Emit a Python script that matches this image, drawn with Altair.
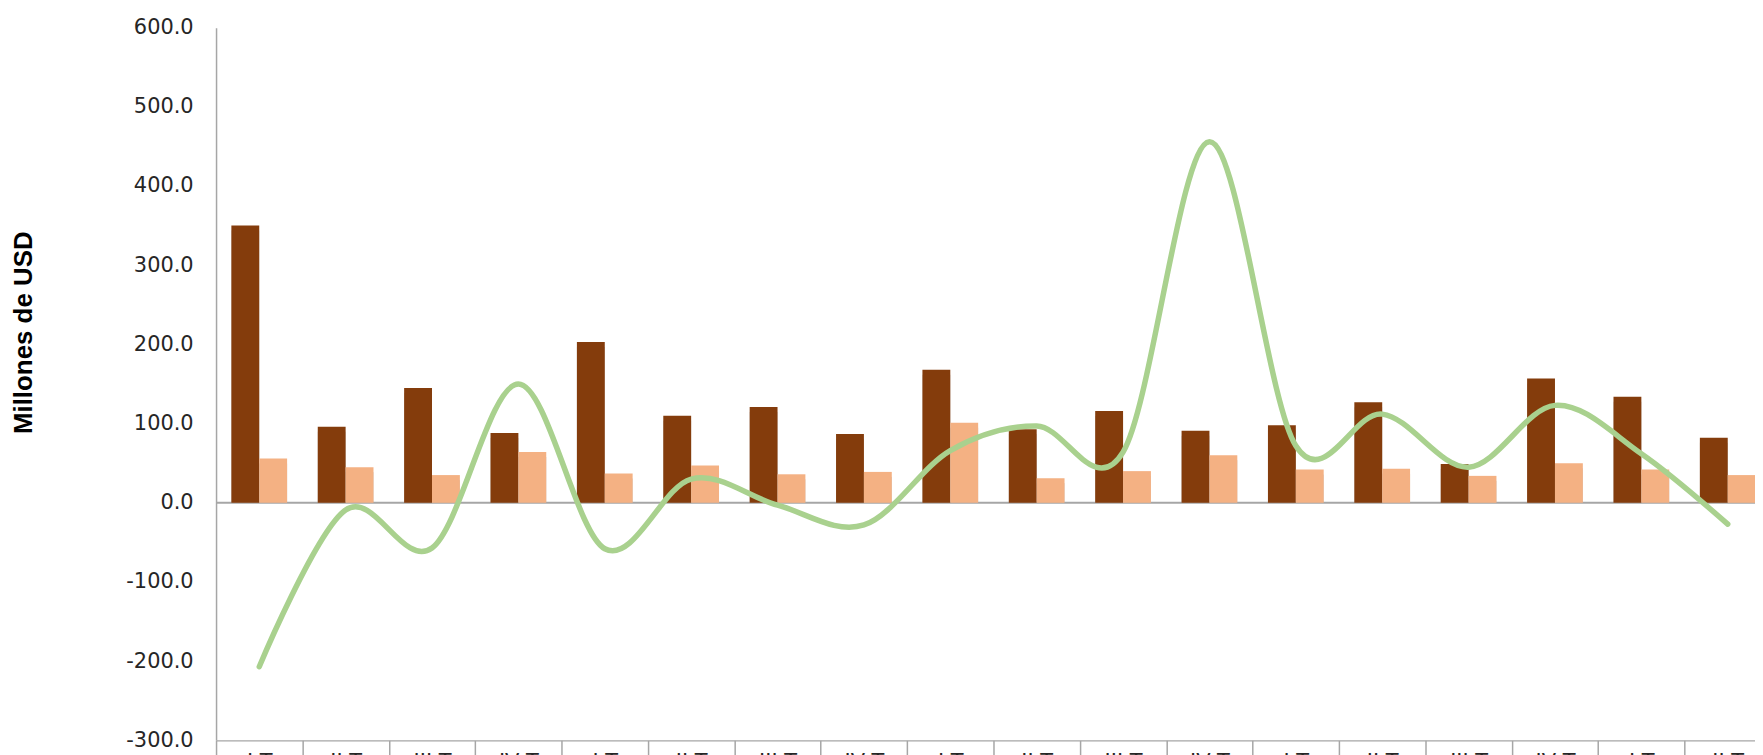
import altair as alt
import pandas as pd

# ---- data ----
claves = ["01", "02", "03", "04", "05", "06", "07", "08", "09",
          "10", "11", "12", "13", "14", "15", "16", "17", "18"]
trimestres = ["I T", "II T", "III T", "IV T", "I T", "II T", "III T", "IV T", "I T",
              "II T", "III T", "IV T", "I T", "II T", "III T", "IV T", "I T", "II T"]
serie_1 = [350, 96, 145, 88, 203, 110, 121, 87, 168, 93, 116, 91, 98, 127, 49, 157, 134, 82]
serie_2 = [56, 45, 35, 64, 37, 47, 36, 39, 101, 31, 40, 60, 42, 43, 34, 50, 42, 35]
serie_3 = [-207, -9, -57, 150, -58, 30, -3, -28, 66, 97, 64, 456, 72, 112, 45, 123, 62, -27]
nombres = ["Serie 1", "Serie 2", "Serie 3"]
colores = ["#843C0C", "#F4B183", "#A9D18E"]
ticks_y = [-300, -200, -100, 0, 100, 200, 300, 400, 500, 600]

bars = pd.DataFrame({
    "clave": claves * 2,
    "serie": [nombres[0]] * len(claves) + [nombres[1]] * len(claves),
    "valor": serie_1 + serie_2,
})
line = pd.DataFrame({"clave": claves, "valor": serie_3, "serie": nombres[2]})

label_map = "{" + ",".join(f"'{k}':'{t}'" for k, t in zip(claves, trimestres)) + "}"

x_enc = alt.X(
    "clave:N",
    sort=claves,
    scale=alt.Scale(domain=claves, range=[0, 1562], paddingInner=0, paddingOuter=0, round=False),
    axis=alt.Axis(
        title=None, labelAngle=0, labelExpr=f"{label_map}[datum.value]",
        labelFont="DejaVu Sans", labelFontSize=21, labelColor="#262626",
        labelBaseline="top", labelPadding=-4,
        domainColor="#A6A6A6", domainWidth=1.5, tickColor="#A6A6A6", tickWidth=1.5,
        tickBand="extent", tickSize=15,
    ),
)
y_scale = alt.Scale(domain=[-300, 600], nice=False, zero=False)
y_enc = alt.Y(
    "valor:Q",
    scale=y_scale,
    axis=alt.Axis(
        values=ticks_y,
        labelExpr="datum.value < 0 ? '-' + format(abs(datum.value), '.1f') : format(datum.value, '.1f')",
        labelFont="DejaVu Sans", labelFontSize=21, labelColor="#262626", labelPadding=23,
        ticks=False, grid=False, domainColor="#A6A6A6", domainWidth=1.5,
        title="Millones de USD", titleFont="Liberation Sans", titleFontSize=26,
        titleFontWeight="bold", titleColor="#000000",
        titleX=-180, titleY=306, titleAlign="center", titleAngle=270, titleBaseline="bottom",
    ),
)
xoff = alt.XOffset("serie:N", sort=nombres[:2],
                   scale=alt.Scale(domain=nombres[:2], paddingInner=0, paddingOuter=0.55))
color = alt.Color("serie:N", scale=alt.Scale(domain=nombres, range=colores), legend=None)

shadow = alt.Chart(bars).mark_bar(color="#6F6F6F", opacity=0.35, yOffset=5, xOffset=2).encode(
    x=x_enc, xOffset=xoff, y=y_enc, y2=alt.datum(0)
)
zero = alt.Chart(pd.DataFrame({"v": [0]})).mark_rule(color="#A6A6A6", strokeWidth=2).encode(
    y=alt.Y("v:Q", scale=y_scale)
)
bar = alt.Chart(bars).mark_bar().encode(
    x=x_enc, xOffset=xoff, y=y_enc, y2=alt.datum(0), color=color
)
curve = alt.Chart(line).mark_line(interpolate="cardinal", tension=0, strokeWidth=5.5,
                                  strokeCap="round").encode(
    x=alt.X("clave:N", sort=claves), y=alt.Y("valor:Q", scale=y_scale), color=color
)

chart = alt.layer(shadow, zero, bar, curve).properties(
    width=1546, height=716,
    autosize=alt.AutoSizeParams(type="none"),
    padding={"left": 209, "top": 18, "right": 0, "bottom": 21},
    background="#FFFFFF",
).configure_view(strokeWidth=0)

chart.save("out.html", embed_options={"renderer": "svg", "actions": False})
